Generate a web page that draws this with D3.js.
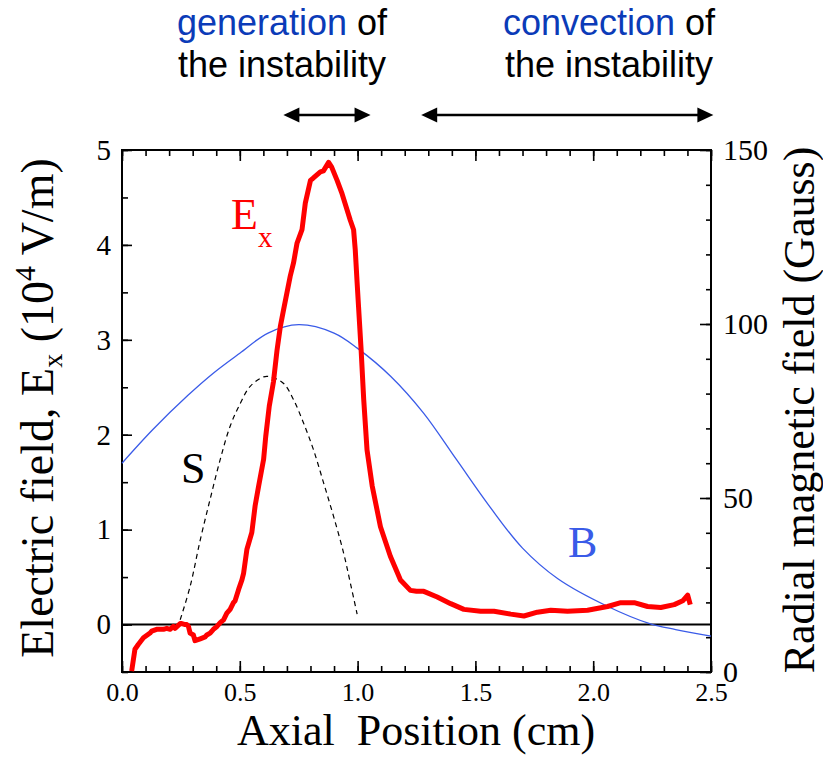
<!DOCTYPE html>
<html>
<head>
<meta charset="utf-8">
<script src="https://cdn.jsdelivr.net/npm/d3@7/dist/d3.min.js"></script>
<style>
	body { margin: 0; background: #fff; }
	svg { display: block; }
</style>
</head>
<body>
<svg id="plot"></svg>
<script>
const WIDTH = 823;
const HEIGHT = 770;
const SERIF = '"Liberation Serif", "Times New Roman", serif';
const SANS = '"Liberation Sans", Arial, sans-serif';

// E_x trace, axial position (cm) vs field (10^4 V/m)
const EX_POS = [0.041, 0.055, 0.069, 0.091, 0.119, 0.126, 0.147, 0.176, 0.19, 0.204, 0.218, 0.225, 0.247, 0.254, 0.268, 0.275, 0.282, 0.289, 0.303, 0.31, 0.332, 0.353, 0.36, 0.374, 0.388, 0.403, 0.417, 0.431, 0.445, 0.459, 0.473, 0.48, 0.495, 0.509, 0.516, 0.53, 0.551, 0.565, 0.58, 0.601, 0.61, 0.625, 0.643, 0.658, 0.672, 0.686, 0.714, 0.728, 0.743, 0.764, 0.778, 0.8, 0.81, 0.842, 0.855, 0.877, 0.89, 0.913, 0.934, 0.969, 0.983, 0.99, 0.998, 1.004, 1.015, 1.026, 1.04, 1.062, 1.097, 1.139, 1.182, 1.224, 1.25, 1.281, 1.338, 1.395, 1.451, 1.522, 1.579, 1.65, 1.706, 1.763, 1.82, 1.891, 1.976, 2.061, 2.117, 2.174, 2.231, 2.287, 2.344, 2.38, 2.401, 2.412];
const EX_VAL = [-0.49, -0.26, -0.21, -0.14, -0.09, -0.07, -0.05, -0.05, -0.04, -0.05, -0.02, -0.04, 0.01, 0.01, 0.0, 0.0, -0.02, -0.09, -0.11, -0.17, -0.15, -0.13, -0.11, -0.09, -0.05, -0.02, 0.02, 0.05, 0.12, 0.16, 0.23, 0.25, 0.37, 0.47, 0.54, 0.79, 0.97, 1.25, 1.46, 1.74, 1.98, 2.3, 2.56, 2.89, 3.14, 3.32, 3.67, 3.81, 4.02, 4.16, 4.44, 4.68, 4.7, 4.77, 4.78, 4.87, 4.82, 4.68, 4.54, 4.26, 4.16, 3.95, 3.6, 3.35, 2.89, 2.37, 1.84, 1.46, 1.03, 0.72, 0.47, 0.36, 0.35, 0.35, 0.29, 0.22, 0.16, 0.14, 0.14, 0.11, 0.09, 0.13, 0.15, 0.14, 0.15, 0.19, 0.23, 0.23, 0.19, 0.18, 0.21, 0.25, 0.31, 0.21];

// radial magnetic field (Gauss), right axis
const B_POS = [0, 0.13, 0.28, 0.39, 0.5, 0.62, 0.75, 0.9, 1.0, 1.14, 1.28, 1.42, 1.56, 1.7, 1.85, 2.06, 2.24, 2.35, 2.5];
const B_VAL = [60, 69.6, 79.5, 86, 91.6, 97.4, 99.8, 97.4, 93, 85, 74.4, 61, 47.6, 35.6, 26.8, 18.9, 13.9, 12.2, 10.3];

// S profile (dashed), left axis units
const S_POS = [0.247, 0.289, 0.332, 0.374, 0.417, 0.459, 0.502, 0.544, 0.601, 0.629, 0.686, 0.728, 0.771, 0.813, 0.856, 0.898, 0.941, 0.969, 0.998];
const S_VAL = [0.05, 0.4, 0.89, 1.32, 1.74, 2.09, 2.33, 2.51, 2.61, 2.61, 2.54, 2.37, 2.12, 1.84, 1.49, 1.14, 0.75, 0.44, 0.11];

const X_TICKS = [0, 0.5, 1, 1.5, 2, 2.5];
const X_TICK_LABELS = ["0.0", "0.5", "1.0", "1.5", "2.0", "2.5"];
const Y_LEFT_TICKS = [0, 1, 2, 3, 4, 5];
const Y_RIGHT_TICKS = [0, 50, 100, 150];

// regions marked by arrows above the plot (cm)
const ARROW_SPANS = [[0.685, 1.055], [1.27, 2.51]];

const RED = "#ff0000";
const BLUE = "#3a5be8";
const TEXT_BLUE = "#0b3bb8";

const plot = d3.select("#plot").attr("width", WIDTH).attr("height", HEIGHT);

const xScale = d3.scaleLinear([0, 2.5], [122, 711]);
const yLeft = d3.scaleLinear([-0.5, 5], [672, 150]);
const yRight = d3.scaleLinear([0, 150], [672, 150]);

const X0 = xScale.range()[0];
const X1 = xScale.range()[1];
const Y0 = yLeft.range()[1];
const Y1 = yLeft.range()[0];

plot.append("rect").attr("width", WIDTH).attr("height", HEIGHT).attr("fill", "#fff");

function styleAxis(g, fontSize) {
	g.select(".domain").remove();
	g.selectAll(".tick line").attr("stroke", "#000").attr("stroke-width", 1.6);
	g.selectAll(".tick text")
		.attr("fill", "#000")
		.style("font-family", SERIF)
		.style("font-size", `${fontSize}px`);
}

// minor ticks first, majors on top
const xMinor = d3.range(0, 2.501, 0.1);
plot.append("g").attr("transform", `translate(0,${Y1})`)
	.call(d3.axisBottom(xScale).tickValues(xMinor).tickSize(-6).tickFormat(""))
	.call(g => styleAxis(g, 10));
plot.append("g").attr("transform", `translate(0,${Y1})`)
	.call(d3.axisBottom(xScale).tickValues(X_TICKS).tickSize(-11).tickPadding(11)
		.tickFormat((d, i) => X_TICK_LABELS[i]))
	.call(g => styleAxis(g, 26));
plot.append("g").attr("transform", `translate(0,${Y0})`)
	.call(d3.axisTop(xScale).tickValues(xMinor).tickSize(-6).tickFormat(""))
	.call(g => styleAxis(g, 10));
plot.append("g").attr("transform", `translate(0,${Y0})`)
	.call(d3.axisTop(xScale).tickValues(X_TICKS).tickSize(-11).tickFormat(""))
	.call(g => styleAxis(g, 10));

plot.append("g").attr("transform", `translate(${X0},0)`)
	.call(d3.axisLeft(yLeft).tickValues(d3.range(-0.5, 5.01, 0.5)).tickSize(-6).tickFormat(""))
	.call(g => styleAxis(g, 10));
plot.append("g").attr("transform", `translate(${X0},0)`)
	.call(d3.axisLeft(yLeft).tickValues(Y_LEFT_TICKS).tickSize(-10).tickPadding(11).tickFormat(d3.format("d")))
	.call(g => styleAxis(g, 29));

plot.append("g").attr("transform", `translate(${X1},0)`)
	.call(d3.axisRight(yRight).tickValues(d3.range(0, 151, 10)).tickSize(-5).tickFormat(""))
	.call(g => styleAxis(g, 10));
plot.append("g").attr("transform", `translate(${X1},0)`)
	.call(d3.axisRight(yRight).tickValues(Y_RIGHT_TICKS).tickSize(-11).tickPadding(12).tickFormat(d3.format("d")))
	.call(g => styleAxis(g, 30));

// frame + zero line
plot.append("rect")
	.attr("x", X0).attr("y", Y0)
	.attr("width", X1 - X0).attr("height", Y1 - Y0)
	.attr("fill", "none").attr("stroke", "#000").attr("stroke-width", 2);
plot.append("line")
	.attr("x1", X0).attr("x2", X1)
	.attr("y1", yLeft(0)).attr("y2", yLeft(0))
	.attr("stroke", "#000").attr("stroke-width", 2);

// curves
const zip = (a, b) => a.map((v, i) => [v, b[i]]);
const smooth = d3.curveCatmullRom.alpha(0.5);

plot.append("path")
	.attr("d", d3.line().x(d => xScale(d[0])).y(d => yRight(d[1])).curve(smooth)(zip(B_POS, B_VAL)))
	.attr("fill", "none").attr("stroke", BLUE).attr("stroke-width", 1.3);

plot.append("path")
	.attr("d", d3.line().x(d => xScale(d[0])).y(d => yLeft(d[1])).curve(smooth)(zip(S_POS, S_VAL)))
	.attr("fill", "none").attr("stroke", "#000").attr("stroke-width", 1.2)
	.attr("stroke-dasharray", "5,4");

plot.append("path")
	.attr("d", d3.line().x(d => xScale(d[0])).y(d => yLeft(d[1]))(zip(EX_POS, EX_VAL)))
	.attr("fill", "none").attr("stroke", RED).attr("stroke-width", 5)
	.attr("stroke-linejoin", "round").attr("stroke-linecap", "butt");

// series labels
const ex = plot.append("text").style("font-family", SERIF).attr("x", 231).attr("y", 229)
	.attr("fill", RED).style("font-size", "44px");
ex.append("tspan").text("E");
ex.append("tspan").attr("dy", 18).style("font-size", "29px").text("x");

plot.append("text").style("font-family", SERIF).attr("x", 181).attr("y", 483)
	.style("font-size", "44px").text("S");
plot.append("text").style("font-family", SERIF).attr("x", 568).attr("y", 557)
	.attr("fill", BLUE).style("font-size", "44px").text("B");

// axis titles
plot.append("text").style("font-family", SERIF)
	.attr("x", 416).attr("y", 745)
	.attr("text-anchor", "middle")
	.style("font-size", "44px").style("white-space", "pre")
	.text("Axial  Position (cm)");

const leftTitle = plot.append("text").style("font-family", SERIF)
	.attr("transform", "translate(53,408) rotate(-90)")
	.attr("text-anchor", "middle")
	.style("font-size", "46px");
leftTitle.append("tspan").text("Electric field, E");
leftTitle.append("tspan").attr("dy", 9).style("font-size", "28px").text("x");
leftTitle.append("tspan").attr("dy", -9).text(" (10");
leftTitle.append("tspan").attr("dy", -18).style("font-size", "30px").text("4");
leftTitle.append("tspan").attr("dy", 18).text(" V/m)");

plot.append("text").style("font-family", SERIF)
	.attr("transform", "translate(814,410) rotate(-90)")
	.attr("text-anchor", "middle")
	.style("font-size", "44px")
	.text("Radial magnetic field (Gauss)");

// phase annotations above the frame
const phaseText = [
	{ cx: 282, word: "generation" },
	{ cx: 609, word: "convection" },
];
for (const p of phaseText) {
	const t1 = plot.append("text").style("font-family", SANS)
		.attr("x", p.cx).attr("y", 35).attr("text-anchor", "middle")
		.style("font-size", "36px");
	t1.append("tspan").attr("fill", TEXT_BLUE).text(p.word);
	t1.append("tspan").attr("fill", "#000").text(" of");
	plot.append("text").style("font-family", SANS)
		.attr("x", p.cx).attr("y", 77).attr("text-anchor", "middle")
		.style("font-size", "36px").text("the instability");
}

const ARROW_Y = 115;
const HEAD_L = 16;
const HEAD_W = 7.5;
for (const [a, b] of ARROW_SPANS) {
	const xa = xScale(a);
	const xb = xScale(b);
	plot.append("line")
		.attr("x1", xa + HEAD_L - 2).attr("x2", xb - HEAD_L + 2)
		.attr("y1", ARROW_Y).attr("y2", ARROW_Y)
		.attr("stroke", "#000").attr("stroke-width", 2.6);
	plot.append("path")
		.attr("d", `M${xa},${ARROW_Y}L${xa + HEAD_L},${ARROW_Y - HEAD_W}L${xa + HEAD_L},${ARROW_Y + HEAD_W}Z`)
		.attr("fill", "#000");
	plot.append("path")
		.attr("d", `M${xb},${ARROW_Y}L${xb - HEAD_L},${ARROW_Y - HEAD_W}L${xb - HEAD_L},${ARROW_Y + HEAD_W}Z`)
		.attr("fill", "#000");
}
</script>
</body>
</html>
